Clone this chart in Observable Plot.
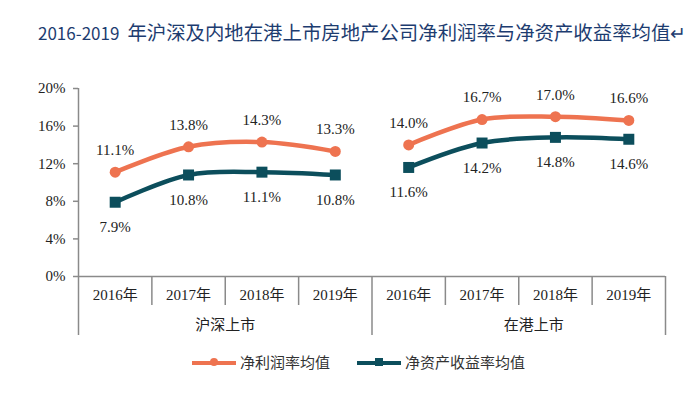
<!DOCTYPE html>
<html>
<head>
<meta charset="utf-8">
<script src="https://cdn.jsdelivr.net/npm/d3@7"></script>
<script src="https://cdn.jsdelivr.net/npm/@observablehq/plot@0.6"></script>
<style>
  html, body { margin: 0; padding: 0; background: #fff; }
  body { width: 700px; height: 394px; overflow: hidden; position: relative; }
  #title { height: 70px; line-height: 64px; padding-left: 38px; font-family: "Noto Sans CJK SC", sans-serif; font-size: 19.4px; color: #1d3c70; white-space: nowrap; }
  #title .num { font-size: 17px; margin-right: 8px; }
  #legend { position: absolute; top: 341px; left: 0; width: 700px; height: 44px; font-family: "Liberation Serif", "Noto Sans CJK SC", serif; font-size: 15px; color: #333; }
  .item { position: absolute; top: 0; height: 44px; line-height: 44px; display: flex; align-items: center; }
  .sw { position: relative; width: 44px; height: 4.5px; margin-right: 4px; }
  .mk { position: absolute; left: 18px; top: -2.5px; width: 8px; height: 8px; }
</style>
</head>
<body>
<div id="title"><span class="num">2016-2019</span>年沪深及内地在港上市房地产公司净利润率与净资产收益率均值↵</div>
<div id="chart"></div>
<div id="legend"></div>
<script>
const groups = ["沪深上市", "在港上市"];
const groupLabels = ["沪深上市", "\u3000\u3000在港上市"];
const years = ["2016年", "2017年", "2018年", "2019年"];
const seriesNames = ["净利润率均值", "净资产收益率均值"];
const netMargin = [11.1, 13.8, 14.3, 13.3, 14.0, 16.7, 17.0, 16.6];
const roe = [7.9, 10.8, 11.1, 10.8, 11.6, 14.2, 14.8, 14.6];
const yTicks = [0, 4, 8, 12, 16, 20];

const colors = ["#ee7350", "#0c4e5c"];

const rows = [];
[netMargin, roe].forEach((vals, s) => {
  vals.forEach((v, i) => {
    rows.push({
      series: seriesNames[s],
      group: groups[Math.floor(i / 4)],
      year: years[i % 4],
      pos: i + 0.5,
      value: v
    });
  });
});
const net = rows.filter(d => d.series === seriesNames[0]);
const ret = rows.filter(d => d.series === seriesNames[1]);

const nCat = groups.length * years.length;
const catCenters = d3.range(nCat).map(i => i + 0.5);
const yearBounds = d3.range(1, nCat).filter(i => i % years.length !== 0);
const groupBounds = d3.range(0, nCat + 1, years.length);
const groupCenters = groups.map((g, j) => j * years.length + years.length / 2);

const axisColor = "#8a8a8a";
const serif = "'Liberation Serif', 'Noto Sans CJK SC', serif";

const chart = Plot.plot({
  width: 700,
  height: 271,
  marginTop: 18,
  marginBottom: 65,
  marginLeft: 78,
  marginRight: 35,
  style: { fontFamily: serif, fontSize: "15px", color: "#222", background: "#fff", overflow: "visible" },
  x: { type: "linear", domain: [0, nCat] },
  y: { domain: [0, 20] },
  marks: [
    Plot.ruleX([0], { y1: 0, y2: 20, stroke: axisColor, strokeWidth: 1.5 }),
    Plot.ruleY([0], { stroke: axisColor, strokeWidth: 1.5 }),
    Plot.axisY({ ticks: yTicks, tickFormat: d => d + "%", tickSize: 5, tickPadding: 8, stroke: axisColor, strokeWidth: 1.5, fontSize: 15, fill: "#222", label: null }),
    Plot.axisX({ ticks: catCenters, tickFormat: v => years[Math.floor(v) % years.length], tickSize: 0, tickPadding: 13, fontSize: 15, fill: "#222", label: null }),
    Plot.axisX({ ticks: yearBounds, tickFormat: () => "", tickSize: 29, stroke: axisColor, strokeWidth: 1.5, label: null }),
    Plot.axisX({ ticks: groupBounds, tickFormat: () => "", tickSize: 59, stroke: axisColor, strokeWidth: 1.5, label: null }),
    Plot.axisX({ ticks: groupCenters, tickFormat: v => groupLabels[Math.floor(v / years.length)], tickSize: 0, tickPadding: 43, fontSize: 15, fill: "#222", label: null }),
    Plot.line(rows, { x: "pos", y: "value", z: d => d.series + d.group, stroke: d => colors[seriesNames.indexOf(d.series)], strokeWidth: 4.5, curve: "catmull-rom" }),
    Plot.dot(net, { x: "pos", y: "value", symbol: "circle", r: 5.5, fill: colors[0] }),
    Plot.dot(ret, { x: "pos", y: "value", symbol: "square", r: 6.2, fill: colors[1] }),
    Plot.text(net, { x: "pos", y: "value", text: d => d.value.toFixed(1) + "%", dy: -22, fontSize: 15, fill: "#222" }),
    Plot.text(ret, { x: "pos", y: "value", text: d => d.value.toFixed(1) + "%", dy: 25, fontSize: 15, fill: "#222" })
  ]
});
document.getElementById("chart").appendChild(chart);

const legend = document.getElementById("legend");
const legendLeft = [192, 357];
seriesNames.forEach((name, s) => {
  const item = document.createElement("div");
  item.className = "item";
  item.style.left = legendLeft[s] + "px";
  const sw = document.createElement("div");
  sw.className = "sw";
  sw.style.background = colors[s];
  const mk = document.createElement("div");
  mk.className = "mk";
  mk.style.background = colors[s];
  mk.style.borderRadius = s === 0 ? "50%" : "0";
  sw.appendChild(mk);
  const label = document.createElement("span");
  label.textContent = name;
  item.appendChild(sw);
  item.appendChild(label);
  legend.appendChild(item);
});
</script>
</body>
</html>
